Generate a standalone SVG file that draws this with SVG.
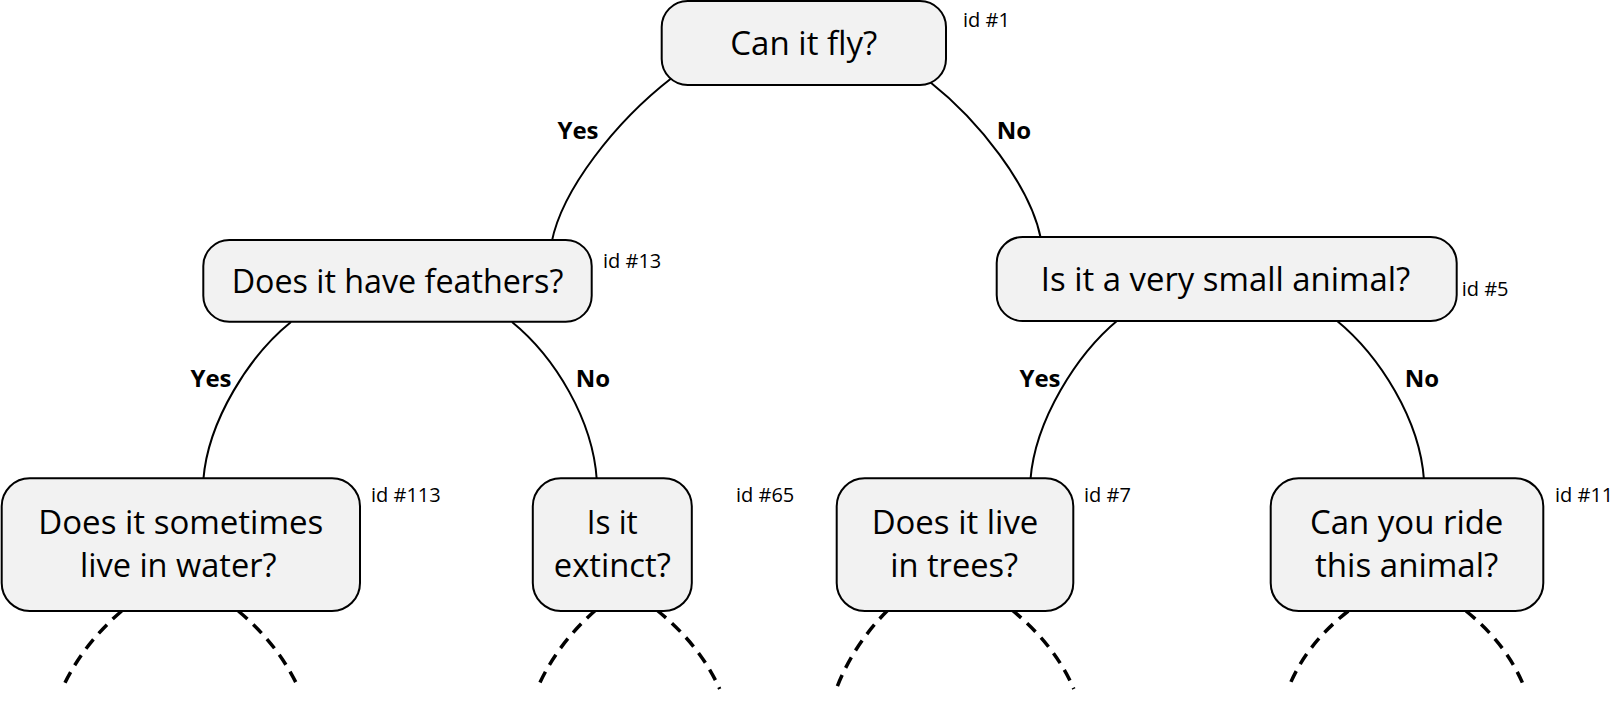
<svg xmlns="http://www.w3.org/2000/svg" width="1619" height="702" viewBox="0 0 1619 702">
<style>
.box{fill:#f2f2f2;stroke:#000;stroke-width:2}
.q{font-family:"Open Sans","Noto Sans",sans-serif;font-size:33px;fill:#000;text-anchor:middle}
.id{font-family:"Open Sans","Noto Sans",sans-serif;font-size:20px;fill:#000}
.lb{font-family:"Open Sans","Noto Sans",sans-serif;font-size:24px;font-weight:bold;fill:#000;text-anchor:middle}
.c{fill:none;stroke:#000;stroke-width:2}
.d{fill:none;stroke:#000;stroke-width:3.5;stroke-dasharray:12 8}
</style>
<rect width="1619" height="702" fill="#fff"/>
<g id="connectors">
<path class="c" d="M671.7 78 C615 122 562 190 551.7 242"/>
<path class="c" d="M930 82 C978 120 1030 185 1040.7 238"/>
<path class="c" d="M291 322 C250 355 208 420 203.3 480"/>
<path class="c" d="M512 322 C555 357 593 420 596.8 480"/>
<path class="c" d="M1118 320 C1077 354 1035 420 1030.4 480"/>
<path class="c" d="M1336 320 C1380 356 1420 420 1424 480"/>
<path class="d" d="M121.7 611 Q82 645 62 689"/>
<path class="d" d="M238.3 611 Q279 645 299 689"/>
<path class="d" d="M595.8 610 Q556 645 537 689"/>
<path class="d" d="M656.7 610 Q700 645 719.7 689"/>
<path class="d" d="M888 610 Q853 645 836.3 689"/>
<path class="d" d="M1011.9 610 Q1055 645 1073.8 689"/>
<path class="d" d="M1348.3 611 Q1305 645 1288 689"/>
<path class="d" d="M1466 611 Q1508 645 1525 689"/>
<text class="lb" x="578" y="139">Yes</text>
<text class="lb" x="1014" y="139">No</text>
<text class="lb" x="211" y="387">Yes</text>
<text class="lb" x="593" y="387">No</text>
<text class="lb" x="1040" y="387">Yes</text>
<text class="lb" x="1422" y="387">No</text>
</g>
<g id="n1">
<rect class="box" x="661.7" y="1" width="284.3" height="84" rx="26"/>
<text class="q" x="803.8" y="55" textLength="147" lengthAdjust="spacingAndGlyphs">Can it fly?</text>
<text class="id" x="963" y="27">id #1</text>
</g>
<g id="n13">
<rect class="box" x="203.3" y="240" width="388.4" height="81.7" rx="26"/>
<text class="q" x="397.5" y="293" textLength="331.7" lengthAdjust="spacingAndGlyphs">Does it have feathers?</text>
<text class="id" x="603" y="268">id #13</text>
</g>
<g id="n5">
<rect class="box" x="996.7" y="237" width="460" height="84" rx="26"/>
<text class="q" x="1225.5" y="291" textLength="369.3" lengthAdjust="spacingAndGlyphs">Is it a very small animal?</text>
<text class="id" x="1461.7" y="295.7">id #5</text>
</g>
<g id="n113">
<rect class="box" x="1.7" y="478.3" width="358.3" height="132.7" rx="28"/>
<text class="q" x="180.8" y="533.5" textLength="285" lengthAdjust="spacingAndGlyphs">Does it sometimes</text>
<text class="q" x="178.3" y="577" textLength="196.7" lengthAdjust="spacingAndGlyphs">live in water?</text>
<text class="id" x="371" y="502">id #113</text>
</g>
<g id="n65">
<rect class="box" x="532.8" y="478.3" width="159" height="132.7" rx="28"/>
<text class="q" x="612.3" y="533.5" textLength="51" lengthAdjust="spacingAndGlyphs">Is it</text>
<text class="q" x="612.3" y="577" textLength="117" lengthAdjust="spacingAndGlyphs">extinct?</text>
<text class="id" x="736" y="502">id #65</text>
</g>
<g id="n7">
<rect class="box" x="836.7" y="478.3" width="236.6" height="132.7" rx="28"/>
<text class="q" x="955" y="533.5" textLength="166.7" lengthAdjust="spacingAndGlyphs">Does it live</text>
<text class="q" x="954.2" y="577" textLength="128" lengthAdjust="spacingAndGlyphs">in trees?</text>
<text class="id" x="1084" y="502">id #7</text>
</g>
<g id="n11">
<rect class="box" x="1270.7" y="478.3" width="272.6" height="132.7" rx="28"/>
<text class="q" x="1406.7" y="533.5" textLength="193.3" lengthAdjust="spacingAndGlyphs">Can you ride</text>
<text class="q" x="1406.7" y="577" textLength="183.3" lengthAdjust="spacingAndGlyphs">this animal?</text>
<text class="id" x="1555" y="502">id #11</text>
</g>
</svg>
